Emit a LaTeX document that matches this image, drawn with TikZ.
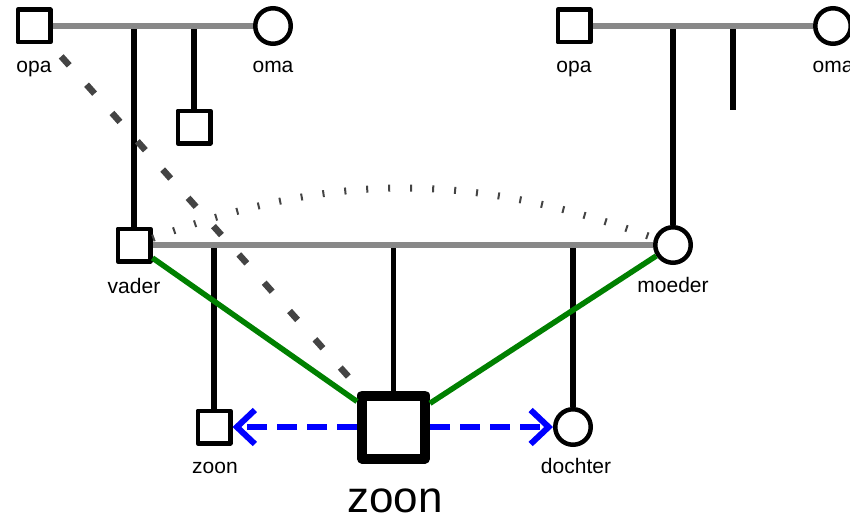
\documentclass[tikz,border=0pt]{standalone}
\usepackage{fontspec}
\setmainfont{Liberation Sans}
\usepackage{tikz}
\usetikzlibrary{arrows.meta,calc,positioning,shapes}
\definecolor{lijngrijs}{RGB}{136,136,136}
\definecolor{donkergrijs}{RGB}{68,68,68}
\definecolor{groen}{RGB}{0,128,0}
\definecolor{blauw}{RGB}{0,0,255}
\tikzset{%
	man/.style      = {draw, rectangle, line width=4.5, line join=round, minimum size=32.5, inner sep=0, fill=white},
	vrouw/.style    = {draw, circle, line width=4.5, minimum size=35.5, inner sep=0, fill=white},
	ikzelf/.style   = {draw, rectangle, line width=10, line join=round, minimum size=63, inner sep=0, fill=white},
	naam/.style     = {anchor=base, inner sep=0, font=\fontsize{21}{25}\selectfont},
	grootnaam/.style= {anchor=base, inner sep=0, font=\fontsize{44}{52}\selectfont},
	relatie/.style  = {draw=lijngrijs, line width=5.5},
	kind/.style     = {draw=black, line width=5.5},
	band/.style     = {draw=groen, line width=5.5},
	afstand/.style  = {draw=donkergrijs, line width=6.5, dash pattern=on 12 off 26, dash phase=22},
	nabij/.style    = {draw=donkergrijs, line width=7, dash pattern=on 2 off 20},
	gericht/.style  = {draw=blauw, line width=6, dash pattern=on 20 off 10, -{Straight Barb[length=18pt,width=34pt]}},
}
\begin{document}
\begin{tikzpicture}[x=1pt,y=-1pt]
	\useasboundingbox (0,0) rectangle (850,519);
	\node[man]    (opaL)    at (34,26)    {};
	\node[vrouw]  (omaL)    at (273,26)   {};
	\node[man]    (kindL)   at (194,127)  {};
	\node[man]    (opaR)    at (574,26)   {};
	\node[vrouw]  (omaR)    at (833,26)   {};
	\node[man]    (vader)   at (134,245)  {};
	\node[vrouw]  (moeder)  at (673,245)  {};
	\node[man]    (zoonK)   at (214,427)  {};
	\node[ikzelf] (ik)      at (393.5,427) {};
	\node[vrouw]  (dochter) at (573,427)  {};
	\coordinate (stubR) at (733,110);
	\node[naam] (opaLnaam)    at (34,72)   {opa};
	\node[naam] (omaLnaam)    at (273,72)  {oma};
	\node[naam] (opaRnaam)    at (574,72)  {opa};
	\node[naam] (omaRnaam)    at (833,72)  {oma};
	\node[naam] (vadernaam)   at (134,293) {vader};
	\node[naam] (moedernaam)  at (673,292) {moeder};
	\node[naam] (zoonKnaam)   at (215,473) {zoon};
	\node[naam] (dochternaam) at (576,473) {dochter};
	\node[grootnaam] (iknaam) at (395,512) {zoon};
	\draw[kind] (vader |- opaL) -- (vader);
	\draw[kind] (kindL |- opaL) -- (kindL);
	\draw[kind] (moeder |- opaR) -- (moeder);
	\draw[kind] (stubR |- opaR) -- (stubR);
	\draw[kind] (zoonK |- vader) -- (zoonK);
	\draw[kind] (ik |- vader) -- (ik);
	\draw[kind] (dochter |- vader) -- (dochter);
	\draw[relatie] (opaL) -- (omaL);
	\draw[relatie] (opaR) -- (omaR);
	\draw[relatie] (vader) -- (moeder);
	\draw[nabij] (vader) to[bend left=20] (moeder);
	\draw[band] (vader) -- (ik);
	\draw[band] (moeder) -- (ik);
	\draw[afstand] (opaL) -- (ik);
	\draw[gericht] (ik) -- (zoonK);
	\draw[gericht] (ik) -- (dochter);
\end{tikzpicture}
\end{document}
